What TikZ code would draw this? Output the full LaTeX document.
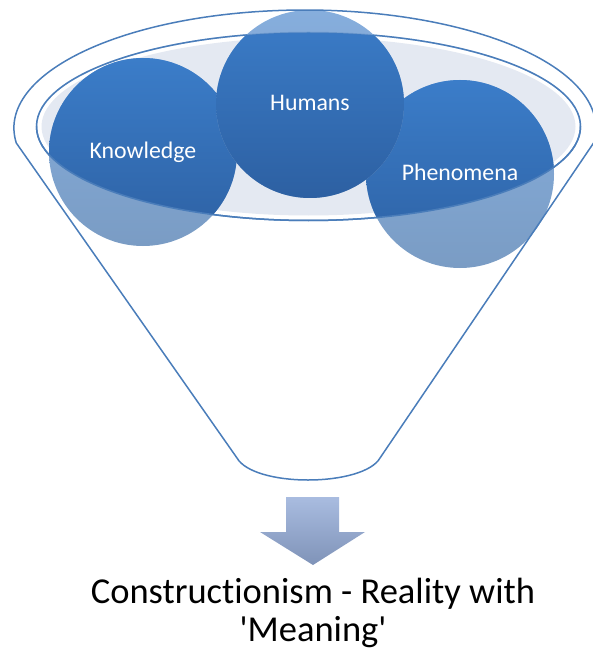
\documentclass[tikz,border=0pt]{standalone}
\usepackage{fontspec}
\setmainfont{Carlito}[Ligatures={TeX,NoCommon}]
\usepackage{tikz}
\usetikzlibrary{calc}
\definecolor{rimline}{RGB}{74,125,186}
\definecolor{rimfill}{RGB}{228,233,242}
\definecolor{balltop}{RGB}{59,125,201}
\definecolor{ballbot}{RGB}{45,96,162}
\definecolor{paletop}{RGB}{134,174,221}
\definecolor{palebot}{RGB}{122,156,196}
\definecolor{arrowtop}{RGB}{169,188,224}
\definecolor{arrowbot}{RGB}{127,147,184}
\tikzset{
    pics/ball/.style = {
        code = {%
        \coordinate (-center) at (0,0);
        \shade[top color=paletop, bottom color=palebot] (0,0) circle[radius=94];
        \begin{scope}
        \clip (rim) ellipse[x radius=272, y radius=94];
        \shade[top color=balltop, bottom color=ballbot] (0,0) circle[radius=94];
        \end{scope}
        }
    },
    balltext/.style = {text=white, font=\fontsize{23.8}{28}\selectfont, anchor=base, yshift=-7pt},
    funnelline/.style = {draw=rimline, line width=1.5pt},
}

\begin{document}
\begin{tikzpicture}[x=1pt, y=-1pt, line width=1.5pt]
\useasboundingbox (0,0) rectangle (592,652);
\coordinate (rim) at (308.5,126.5);
\coordinate (tip) at (308,480);
% rim of the funnel
\fill[rimfill] (rim) ellipse[x radius=267, y radius=89];
\draw[funnelline] (rim) ellipse[x radius=272, y radius=94];

\pic (K) at (143,152) {ball};
\node[balltext] (Ktext) at (K-center) {Knowledge};

\pic (P) at (460,174) {ball};
\node[balltext] (Ptext) at (P-center) {Phenomena};

\pic (H) at (310,104) {ball};
\node[balltext] (Htext) at (H-center) {Humans};

% front edge of the rim over the balls
\draw[funnelline] ($(rim)+(272,0)$) arc[start angle=0, end angle=180, x radius=272, y radius=94];
\draw[funnelline, draw opacity=0.35] ($(rim)+(-272,0)$) arc[start angle=180, end angle=360, x radius=272, y radius=94];
% body of the funnel
\draw[funnelline] (16.3,143) arc[start angle=172.7, end angle=367.3, x radius=291, y radius=118]
    -- (380,458) .. controls (372,472) and (341,480) .. (tip)
    .. controls (275,480) and (245,472) .. (237,458) -- cycle;

% arrow and result
\shade[top color=arrowtop, bottom color=arrowbot] (286,497) -- (339,497) -- (339,532) -- (365,532)
    -- (313,565) -- (260,532) -- (286,532) -- cycle;
\node[font=\fontsize{36.5}{38.5}\selectfont, align=center, anchor=north, inner sep=0pt] (result) at (313,577)
    {Constructionism - Reality with\\\textquotesingle Meaning\textquotesingle};
\end{tikzpicture}
\end{document}
